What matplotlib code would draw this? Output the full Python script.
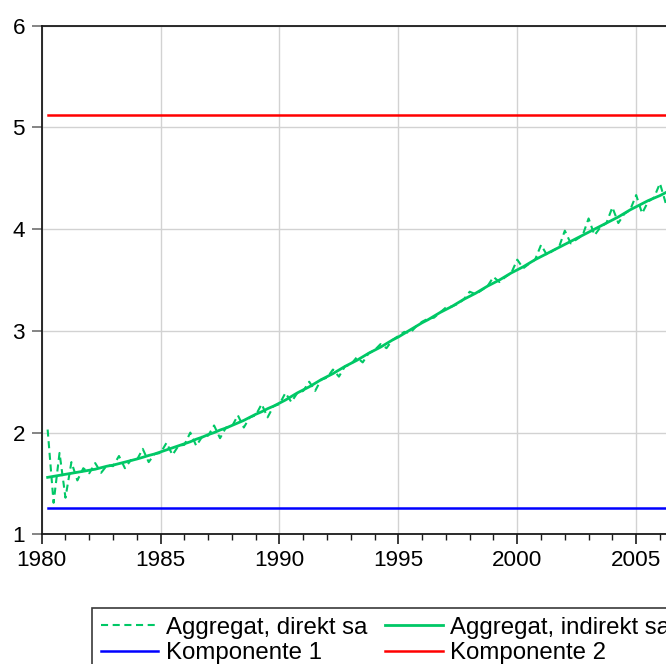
import numpy as np
import pandas as pd
import matplotlib
matplotlib.use("Agg")
import matplotlib.pyplot as plt
from matplotlib.ticker import MultipleLocator

plt.rcParams["font.family"] = ["Liberation Sans", "DejaVu Sans"]

# quarterly data, first observation 1980Q2
start_quarter = "1980Q2"

direkt_sa = [
    2.03, 1.31, 1.80,
    1.36, 1.71, 1.53, 1.65,
    1.60, 1.70, 1.605, 1.68,
    1.67, 1.77, 1.65, 1.73,
    1.73, 1.84, 1.71, 1.79,
    1.80, 1.90, 1.78, 1.87,
    1.88, 2.00, 1.87, 1.96,
    1.97, 2.07, 1.945, 2.05,
    2.06, 2.17, 2.05, 2.15,
    2.17, 2.28, 2.15, 2.26,
    2.28, 2.39, 2.30, 2.39,
    2.41, 2.50, 2.41, 2.52,
    2.54, 2.62, 2.55, 2.65,
    2.67, 2.74, 2.69, 2.78,
    2.81, 2.87, 2.83, 2.91,
    2.95, 2.99, 2.98, 3.045,
    3.09, 3.12, 3.13, 3.18,
    3.23, 3.24, 3.265, 3.31,
    3.385, 3.36, 3.40, 3.44,
    3.53, 3.48, 3.53, 3.57,
    3.70, 3.615, 3.66, 3.70,
    3.845, 3.745, 3.79, 3.82,
    3.985, 3.86, 3.90, 3.94,
    4.105, 3.94, 4.02, 4.06,
    4.215, 4.06, 4.15, 4.19,
    4.335, 4.155, 4.27, 4.31,
    4.45, 4.25,
]

indirekt_sa = [
    1.56, 1.57, 1.58,
    1.59, 1.60, 1.61, 1.62,
    1.63, 1.64, 1.655, 1.67,
    1.68, 1.695, 1.71, 1.725,
    1.74, 1.757, 1.775, 1.79,
    1.81, 1.83, 1.85, 1.87,
    1.89, 1.91, 1.935, 1.955,
    1.98, 2.00, 2.025, 2.045,
    2.07, 2.095, 2.12, 2.15,
    2.18, 2.205, 2.235, 2.26,
    2.29, 2.32, 2.355, 2.39,
    2.42, 2.45, 2.485, 2.52,
    2.55, 2.58, 2.615, 2.65,
    2.68, 2.71, 2.745, 2.78,
    2.81, 2.84, 2.875, 2.91,
    2.94, 2.975, 3.01, 3.045,
    3.08, 3.11, 3.145, 3.18,
    3.21, 3.24, 3.275, 3.31,
    3.34, 3.37, 3.405, 3.44,
    3.47, 3.50, 3.535, 3.57,
    3.60, 3.63, 3.665, 3.70,
    3.73, 3.76, 3.79, 3.82,
    3.85, 3.88, 3.91, 3.94,
    3.97, 4.00, 4.03, 4.06,
    4.09, 4.12, 4.155, 4.19,
    4.22, 4.25, 4.28, 4.305,
    4.33, 4.36,
]

komponente_1 = 1.26
komponente_2 = 5.12

labels = ["Aggregat, direkt sa", "Aggregat, indirekt sa", "Komponente 1", "Komponente 2"]

green = "#00c866"

periods = pd.period_range(start_quarter, periods=len(direkt_sa), freq="Q")
x = periods.year + (periods.quarter - 1) / 4.0

fig = plt.figure(figsize=(6.66, 6.64), dpi=100)
ax = fig.add_axes([0.0626, 0.1953, 0.964, 0.7660])

l1, = ax.plot(x, direkt_sa, color=green, lw=1.5, dashes=(3.4, 2.2))
l2, = ax.plot(x, indirekt_sa, color=green, lw=2.0)
l3, = ax.plot(x, [komponente_1] * len(x), color="#0000ff", lw=1.8)
l4, = ax.plot(x, [komponente_2] * len(x), color="#ff0000", lw=1.8)

ax.set_xlim(1980, 2007)
ax.set_ylim(1, 6)
ax.xaxis.set_major_locator(MultipleLocator(5))
ax.xaxis.set_minor_locator(MultipleLocator(1))
ax.yaxis.set_major_locator(MultipleLocator(1))

ax.grid(True, which="major", color="#d2d2d2", lw=1.0)
ax.set_axisbelow(True)

for side in ["left", "bottom", "top", "right"]:
    ax.spines[side].set_linewidth(1.3)
    ax.spines[side].set_color("#1a1a1a")

ax.tick_params(axis="both", which="major", direction="out", length=7, width=1.2,
               labelsize=16.2, colors="#1a1a1a", labelcolor="black")
ax.tick_params(axis="x", which="major", pad=4)
ax.tick_params(axis="y", which="major", pad=5, color="#707070")
ax.tick_params(axis="x", which="minor", direction="out", length=4, width=1.0,
               color="#1a1a1a")
ax.tick_params(axis="y", which="minor", length=0)

# legend is filled row by row, as in the original
handles = [l1, l3, l2, l4]
leg_labels = [labels[0], labels[2], labels[1], labels[3]]
leg = fig.legend(handles, leg_labels, ncol=2, loc="upper left",
                 bbox_to_anchor=(92.3 / 666, 1 - 608.3 / 664),
                 fontsize=17.3, frameon=True, fancybox=False, framealpha=1,
                 edgecolor="#3a3a3a", handlelength=2.4, handletextpad=0.3,
                 columnspacing=0.75, borderpad=0.35, labelspacing=0.15,
                 borderaxespad=0)
leg.get_frame().set_linewidth(1.2)

fig.savefig("out.png", dpi=100)
